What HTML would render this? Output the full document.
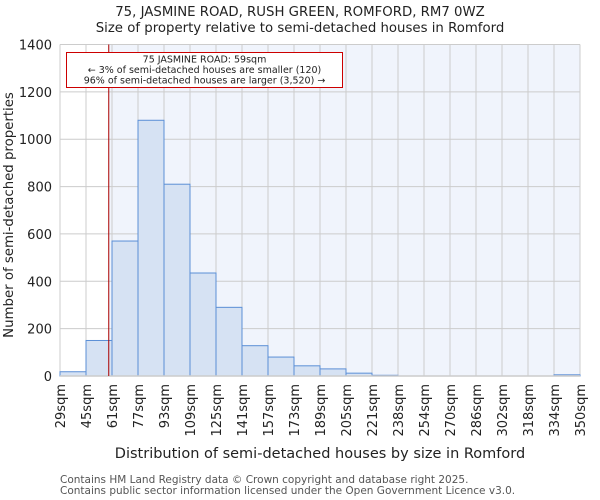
<!DOCTYPE html>
<html><head><meta charset="utf-8"><style>
body{margin:0;background:#fff;}
svg{display:block;font-family:"DejaVu Sans","Liberation Sans",sans-serif;}
</style></head><body>
<svg id="chart" width="600" height="500" viewBox="0 0 600 500">
<text x="300" y="16" text-anchor="middle" font-size="13.3" fill="#222">75, JASMINE ROAD, RUSH GREEN, ROMFORD, RM7 0WZ</text>
<text x="300" y="32" text-anchor="middle" font-size="13.3" fill="#222">Size of property relative to semi-detached houses in Romford</text>
<g id="plot"></g>
<text x="320" y="458" text-anchor="middle" font-size="14.5" fill="#222">Distribution of semi-detached houses by size in Romford</text>
<text transform="translate(13,215) rotate(-90)" text-anchor="middle" font-size="13.3" fill="#222">Number of semi-detached properties</text>
<text x="60" y="483" font-size="10.5" fill="#555">Contains HM Land Registry data © Crown copyright and database right 2025.</text>
<text x="60" y="494" font-size="10.5" fill="#555">Contains public sector information licensed under the Open Government Licence v3.0.</text>
</svg>
<script>
const binLabels=["29sqm","45sqm","61sqm","77sqm","93sqm","109sqm","125sqm","141sqm","157sqm","173sqm","189sqm","205sqm","221sqm","238sqm","254sqm","270sqm","286sqm","302sqm","318sqm","334sqm","350sqm"];
const counts=[18,150,570,1080,810,435,290,128,80,43,30,12,3,0,0,0,0,0,0,5];
const yTicks=[0,200,400,600,800,1000,1200,1400];
const markerValue=59;
const binStart=29, binStep=16;
const NS="http://www.w3.org/2000/svg";
const g=document.getElementById('plot');
const L=60,R=580,T=44.5,B=376,yMax=1400;
const bw=(R-L)/counts.length;
const x=v=>L+(v-binStart)/binStep*bw;
const y=v=>B-(v/yMax)*(B-T);
function mk(t,a){const e=document.createElementNS(NS,t);for(const k in a)e.setAttribute(k,a[k]);g.appendChild(e);return e;}
const mx=x(markerValue);
let e=mk('rect',{x:L,y:T,width:mx-L,height:B-T,fill:'#ffffff'});


e=mk('rect',{x:mx,y:T,width:R-mx,height:B-T,fill:'#f0f4fc'});


for(let i=0;i<binLabels.length;i++){
 e=mk('line',{x1:L+i*bw,x2:L+i*bw,y1:T,y2:B,stroke:'#cccccc','stroke-width':1});
 
 
}
yTicks.forEach(t=>{
 e=mk('line',{x1:L,x2:R,y1:y(t),y2:y(t),stroke:'#cccccc','stroke-width':1});
 
 
 e=mk('text',{x:L-8,y:y(t)+5,'text-anchor':'end','font-size':13,fill:'#222'});
 e.textContent=t;
 
 
});
counts.forEach((c,i)=>{
 if(c<=0)return;
 e=mk('rect',{x:L+i*bw,y:y(c),width:bw,height:B-y(c),fill:'#d6e2f3',stroke:'#5b8fd6','stroke-width':1});
 
 
});
e=mk('line',{x1:L,x2:R,y1:B,y2:B,stroke:'#cccccc','stroke-width':1.5});


binLabels.forEach((lab,i)=>{
 const px=L+i*bw;
 e=mk('text',{transform:`translate(${px+5},384) rotate(-90)`,'text-anchor':'end','font-size':13,fill:'#222'});
 e.textContent=lab;
 
 
});
e=mk('line',{x1:mx,x2:mx,y1:T,y2:B,stroke:'#aa0000','stroke-width':1});


e=mk('rect',{x:66.5,y:52.5,width:276,height:35,fill:'#fff',stroke:'#cc0000','stroke-width':1});


["75 JASMINE ROAD: 59sqm","← 3% of semi-detached houses are smaller (120)","96% of semi-detached houses are larger (3,520) →"].forEach((s,i)=>{
 e=mk('text',{x:204.5,y:62.5+i*10.5,'text-anchor':'middle','font-size':9.5,fill:'#222'});
 e.textContent=s;
 
 
});
</script>
</body></html>
